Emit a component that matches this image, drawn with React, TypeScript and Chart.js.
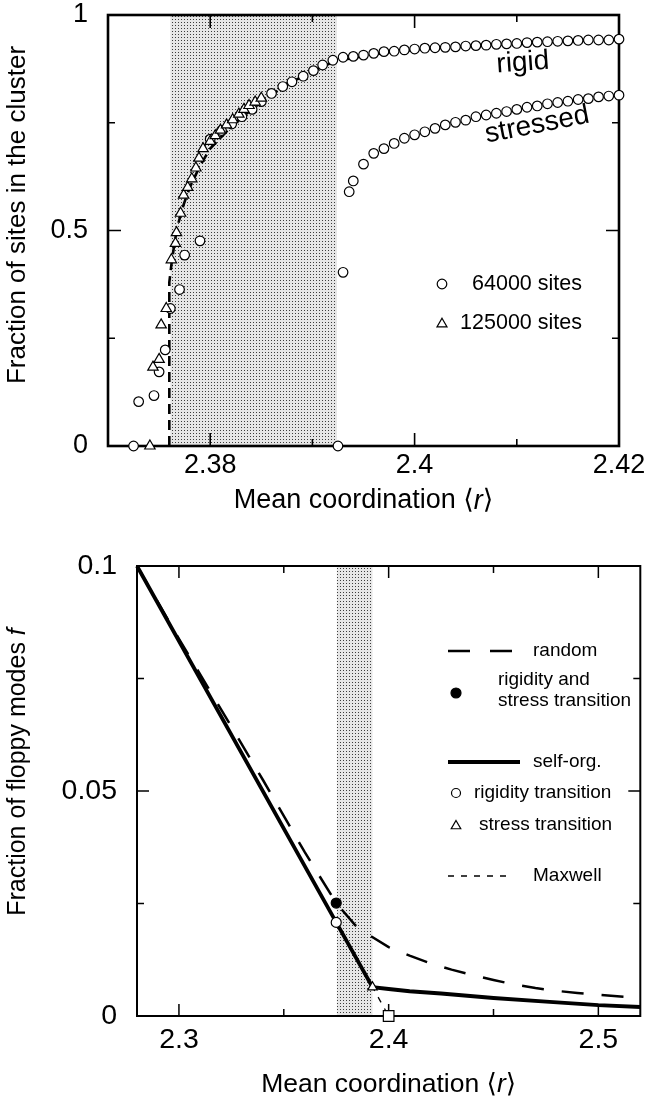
import React, { useEffect, useRef } from 'react';
import { Chart, registerables } from 'chart.js';

Chart.register(...registerables);

const FONT = '"Liberation Sans", Arial, Helvetica, "DejaVu Sans", sans-serif';

// ---------------- Top chart: fraction of sites in the cluster ----------------
const TOP_X_RANGE = [2.37, 2.42];
const TOP_Y_RANGE = [0, 1];
const TOP_X_TICKS = [2.38, 2.39, 2.4, 2.41, 2.42];
const TOP_X_LABELS = ['2.38', '', '2.4', '', '2.42'];
const TOP_Y_TICKS = [0, 0.25, 0.5, 0.75, 1];
const TOP_Y_LABELS = ['0', '', '0.5', '', '1'];
const TOP_SHADE = [2.3761, 2.3924];

// 64000 sites – rigid cluster
const RIGID64_R = [2.3725, 2.373, 2.3745, 2.375, 2.3756, 2.3761, 2.377, 2.3775, 2.379, 2.38, 2.3811, 2.3821, 2.3831, 2.3841, 2.385, 2.386, 2.3871, 2.388, 2.3891, 2.3901, 2.391, 2.392, 2.393, 2.394, 2.395, 2.396, 2.397, 2.398, 2.399, 2.4, 2.401, 2.402, 2.403, 2.404, 2.405, 2.406, 2.407, 2.408, 2.409, 2.41, 2.411, 2.412, 2.413, 2.414, 2.415, 2.416, 2.417, 2.418, 2.419, 2.42];
const RIGID64_F = [0, 0.103, 0.117, 0.172, 0.223, 0.319, 0.363, 0.443, 0.476, 0.712, 0.732, 0.747, 0.764, 0.781, 0.799, 0.818, 0.834, 0.845, 0.858, 0.871, 0.884, 0.895, 0.902, 0.904, 0.907, 0.911, 0.915, 0.916, 0.919, 0.921, 0.923, 0.924, 0.925, 0.926, 0.928, 0.929, 0.93, 0.932, 0.933, 0.934, 0.936, 0.937, 0.938, 0.939, 0.94, 0.941, 0.942, 0.942, 0.942, 0.944];
// 64000 sites – stressed cluster
const STRESS64_R = [2.3925, 2.393, 2.3936, 2.394, 2.395, 2.396, 2.397, 2.398, 2.399, 2.4, 2.401, 2.402, 2.403, 2.404, 2.405, 2.406, 2.407, 2.408, 2.409, 2.41, 2.411, 2.412, 2.413, 2.414, 2.415, 2.416, 2.417, 2.418, 2.419, 2.42];
const STRESS64_F = [0, 0.403, 0.59, 0.615, 0.654, 0.679, 0.69, 0.702, 0.714, 0.722, 0.729, 0.737, 0.745, 0.751, 0.756, 0.764, 0.768, 0.772, 0.776, 0.781, 0.786, 0.789, 0.794, 0.797, 0.8, 0.804, 0.806, 0.81, 0.812, 0.814];
// 125000 sites
const T125_R = [2.3741, 2.3744, 2.375, 2.3752, 2.3757, 2.3762, 2.3766, 2.3767, 2.3771, 2.3774, 2.3778, 2.3782, 2.3786, 2.3789, 2.3793, 2.38, 2.3805, 2.381, 2.3816, 2.3822, 2.3828, 2.3833, 2.3838, 2.3844, 2.385];
const T125_F = [0, 0.183, 0.201, 0.281, 0.319, 0.432, 0.47, 0.495, 0.54, 0.582, 0.6, 0.62, 0.645, 0.668, 0.69, 0.707, 0.72, 0.733, 0.745, 0.757, 0.77, 0.781, 0.79, 0.798, 0.807];
// dashed fit of the rigid cluster
const FIT_R = [2.376, 2.376, 2.3762, 2.3765, 2.3768, 2.3774, 2.378, 2.379, 2.38, 2.382, 2.384, 2.386, 2.388, 2.39, 2.392, 2.395, 2.398, 2.402, 2.406, 2.41, 2.415, 2.42];
const FIT_F = [0, 0.38, 0.42, 0.47, 0.51, 0.56, 0.6, 0.65, 0.69, 0.74, 0.78, 0.815, 0.845, 0.869, 0.891, 0.905, 0.915, 0.923, 0.929, 0.934, 0.939, 0.944];
// curve labels [r, value, rotation in degrees]
const TOP_CURVE_LABELS = ['rigid', 'stressed'];
const TOP_CURVE_LABEL_AT = [[2.4106, 0.889, -4], [2.412, 0.745, -11]];
const TOP_LEGEND = ['64000 sites', '125000 sites'];

// ---------------- Bottom chart: fraction of floppy modes ----------------
const BOT_X_RANGE = [2.28, 2.52];
const BOT_Y_RANGE = [0, 0.1];
const BOT_X_TICKS = [2.3, 2.35, 2.4, 2.45, 2.5];
const BOT_X_LABELS = ['2.3', '', '2.4', '', '2.5'];
const BOT_Y_TICKS = [0, 0.025, 0.05, 0.075, 0.1];
const BOT_Y_LABELS = ['0', '', '0.05', '', '0.1'];
const BOT_SHADE = [2.3753, 2.3923];

const RANDOM_R = [2.28, 2.3, 2.32, 2.34, 2.36, 2.375, 2.384, 2.392, 2.4, 2.41, 2.42, 2.43, 2.44, 2.45, 2.46, 2.47, 2.48, 2.49, 2.5, 2.52];
const RANDOM_F = [0.1, 0.0838, 0.0682, 0.0525, 0.0364, 0.0251, 0.0202, 0.0176, 0.0153, 0.0134, 0.0117, 0.0103, 0.0091, 0.008, 0.007, 0.0062, 0.0056, 0.0051, 0.0047, 0.004];
const SELF_R = [2.28, 2.375, 2.3923, 2.4, 2.41, 2.425, 2.45, 2.475, 2.5, 2.52];
const SELF_F = [0.1, 0.0208, 0.0064, 0.006, 0.0055, 0.005, 0.004, 0.0032, 0.0024, 0.002];
const MAXWELL_R = [2.28, 2.4];
const MAXWELL_F = [0.1, 0];
const RANDOM_TRANSITION = [2.375, 0.0251];
const RIGIDITY_TRANSITION = [2.375, 0.0208];
const STRESS_TRANSITION = [2.3923, 0.0064];
const MAXWELL_POINT = [2.4, 0];
const BOT_LEGEND = ['random', 'rigidity and', 'stress transition', 'self-org.', 'rigidity transition', 'stress transition', 'Maxwell'];

// ---------------- helpers ----------------
type Part = { t: string; i?: boolean };
const zip = (xs: number[], ys: number[]) => xs.map((x, k) => ({ x, y: ys[k] }));

function fontOf(size: number, italic = false) {
  return `${italic ? 'italic ' : ''}${size}px ${FONT}`;
}

function drawRich(ctx: CanvasRenderingContext2D, parts: Part[], x: number, y: number, size: number, rot = 0) {
  ctx.save();
  ctx.translate(x, y);
  ctx.rotate(rot);
  let total = 0;
  const widths = parts.map((p) => {
    ctx.font = fontOf(size, p.i);
    const w = ctx.measureText(p.t).width;
    total += w;
    return w;
  });
  let cx = -total / 2;
  ctx.fillStyle = '#000';
  ctx.textBaseline = 'middle';
  ctx.textAlign = 'left';
  parts.forEach((p, k) => {
    ctx.font = fontOf(size, p.i);
    ctx.fillText(p.t, cx, 0);
    cx += widths[k];
  });
  ctx.restore();
}

function circle(ctx: CanvasRenderingContext2D, x: number, y: number, r: number, fill: string) {
  ctx.beginPath();
  ctx.arc(x, y, r, 0, Math.PI * 2);
  ctx.fillStyle = fill;
  ctx.fill();
  ctx.stroke();
}

function triangle(ctx: CanvasRenderingContext2D, x: number, y: number, r: number) {
  ctx.beginPath();
  for (let k = 0; k < 3; k++) {
    const a = (k * 2 * Math.PI) / 3;
    const px = x + Math.sin(a) * r;
    const py = y - Math.cos(a) * r;
    if (k === 0) ctx.moveTo(px, py);
    else ctx.lineTo(px, py);
  }
  ctx.closePath();
  ctx.fillStyle = '#fff';
  ctx.fill();
  ctx.stroke();
}

function stipple(ctx: CanvasRenderingContext2D) {
  const c = document.createElement('canvas');
  c.width = 3;
  c.height = 3;
  const g = c.getContext('2d')!;
  g.fillStyle = '#e6e6e6';
  g.fillRect(0, 0, 3, 3);
  g.fillStyle = '#3c3c3c';
  g.fillRect(1, 1, 1, 1);
  return ctx.createPattern(c, 'repeat')!;
}

type Spec = {
  xTicks: number[];
  xLabels: string[];
  yTicks: number[];
  yLabels: string[];
  shade: number[];
  frameWidth: number;
  tickWidth: number;
  major: number;
  minor: number;
  xTitleSize: number;
  yTitleSize: number;
  xTitle: Part[];
  yTitle: Part[];
  xTitleY: number;
  yTitlePos: [number, number];
  extra: (chart: Chart) => void;
};

function makeDecor(spec: Spec) {
  return {
    id: 'decor',
    beforeDatasetsDraw(chart: Chart) {
      const { ctx, chartArea: a } = chart;
      const x = chart.scales.x;
      const y = chart.scales.y;
      ctx.save();
      // shaded window
      const x0 = x.getPixelForValue(spec.shade[0]);
      const x1 = x.getPixelForValue(spec.shade[1]);
      ctx.fillStyle = stipple(ctx);
      ctx.fillRect(x0, a.top, x1 - x0, a.bottom - a.top);
      // frame
      ctx.strokeStyle = '#000';
      ctx.lineWidth = spec.frameWidth;
      ctx.strokeRect(a.left, a.top, a.right - a.left, a.bottom - a.top);
      // inward ticks on all four sides
      ctx.lineWidth = spec.tickWidth;
      ctx.beginPath();
      spec.xTicks.forEach((v, k) => {
        const p = x.getPixelForValue(v);
        const len = spec.xLabels[k] ? spec.major : spec.minor;
        ctx.moveTo(p, a.bottom);
        ctx.lineTo(p, a.bottom - len);
        ctx.moveTo(p, a.top);
        ctx.lineTo(p, a.top + len);
      });
      spec.yTicks.forEach((v, k) => {
        const p = y.getPixelForValue(v);
        const len = spec.yLabels[k] ? spec.major : spec.minor;
        ctx.moveTo(a.left, p);
        ctx.lineTo(a.left + len, p);
        ctx.moveTo(a.right, p);
        ctx.lineTo(a.right - len, p);
      });
      ctx.stroke();
      ctx.restore();
    },
    afterDraw(chart: Chart) {
      const { ctx, chartArea: a } = chart;
      drawRich(ctx, spec.xTitle, (a.left + a.right) / 2, spec.xTitleY, spec.xTitleSize);
      drawRich(ctx, spec.yTitle, spec.yTitlePos[0], spec.yTitlePos[1], spec.yTitleSize, -Math.PI / 2);
      ctx.save();
      spec.extra(chart);
      ctx.restore();
    },
  };
}

// axis whose labels are offset by `gap` pixels, with a fixed box size
function axis(range: number[], ticks: number[], labels: string[], size: number, gap: number, fit: (s: any) => void) {
  return {
    type: 'linear',
    min: range[0],
    max: range[1],
    afterBuildTicks: (s: any) => {
      s.ticks = ticks.map((v) => ({ value: v }));
    },
    afterFit: (s: any) => {
      fit(s);
      s.paddingTop = 0;
      s.paddingBottom = 0;
      s.paddingLeft = 0;
      s.paddingRight = 0;
    },
    grid: { display: false, drawTicks: true, tickLength: gap },
    border: { display: false },
    ticks: {
      autoSkip: false,
      maxRotation: 0,
      padding: 0,
      color: '#000',
      font: { family: FONT, size },
      callback: (_v: any, k: number) => labels[k] ?? '',
    },
  };
}

const marker = (label: string, data: any[], style: string, r: number, fill = '#fff') => ({
  type: 'scatter',
  label,
  data,
  showLine: false,
  pointStyle: style,
  pointRadius: r,
  pointBackgroundColor: fill,
  pointBorderColor: '#000',
  pointBorderWidth: 1.2,
  clip: false,
});

const curve = (label: string, data: any[], width: number, dash: number[]) => ({
  type: 'line',
  label,
  data,
  showLine: true,
  borderColor: '#000',
  borderWidth: width,
  borderDash: dash,
  borderCapStyle: 'butt',
  pointRadius: 0,
  fill: false,
  tension: 0,
  clip: false,
});

function topConfig(): any {
  const spec: Spec = {
    xTicks: TOP_X_TICKS,
    xLabels: TOP_X_LABELS,
    yTicks: TOP_Y_TICKS,
    yLabels: TOP_Y_LABELS,
    shade: TOP_SHADE,
    frameWidth: 2.6,
    tickWidth: 1.6,
    major: 13,
    minor: 7,
    xTitleSize: 27,
    yTitleSize: 26,
    xTitle: [{ t: 'Mean coordination \u27E8' }, { t: 'r', i: true }, { t: '\u27E9' }],
    yTitle: [{ t: 'Fraction of sites in the cluster' }],
    xTitleY: 501,
    yTitlePos: [18, 215],
    extra: (chart) => {
      const ctx = chart.ctx;
      const x = chart.scales.x;
      const y = chart.scales.y;
      TOP_CURVE_LABELS.forEach((txt, k) => {
        const [r, f, deg] = TOP_CURVE_LABEL_AT[k];
        ctx.save();
        ctx.translate(x.getPixelForValue(r), y.getPixelForValue(f));
        ctx.rotate((deg * Math.PI) / 180);
        ctx.font = fontOf(28);
        ctx.fillStyle = '#000';
        ctx.textAlign = 'center';
        ctx.textBaseline = 'middle';
        ctx.fillText(txt, 0, 0);
        ctx.restore();
      });
      ctx.strokeStyle = '#000';
      ctx.lineWidth = 1.2;
      circle(ctx, 442, 284, 4.8, '#fff');
      triangle(ctx, 442, 324, 5.8);
      ctx.font = fontOf(21.5);
      ctx.fillStyle = '#000';
      ctx.textAlign = 'right';
      ctx.textBaseline = 'middle';
      ctx.fillText(TOP_LEGEND[0], 582, 284);
      ctx.fillText(TOP_LEGEND[1], 582, 323);
    },
  };
  return {
    type: 'scatter',
    data: {
      datasets: [
        marker('125000 sites', zip(T125_R, T125_F), 'triangle', 6),
        marker('64000 sites', zip(RIGID64_R, RIGID64_F), 'circle', 4.8),
        marker('64000 sites stressed', zip(STRESS64_R, STRESS64_F), 'circle', 4.8),
        curve('fit', zip(FIT_R, FIT_F), 2.6, [10, 6]),
      ],
    },
    options: {
      animation: false,
      responsive: false,
      events: [],
      layout: { padding: { left: 0, right: 30, top: 15, bottom: 0 } },
      plugins: { legend: { display: false }, tooltip: { enabled: false } },
      scales: {
        x: axis(TOP_X_RANGE, TOP_X_TICKS, TOP_X_LABELS, 27, 3, (s: any) => { s.height = 94; }),
        y: axis(TOP_Y_RANGE, TOP_Y_TICKS, TOP_Y_LABELS, 27, 20, (s: any) => { s.width = 108; }),
      },
    },
    plugins: [makeDecor(spec)],
  };
}

function bottomConfig(): any {
  const spec: Spec = {
    xTicks: BOT_X_TICKS,
    xLabels: BOT_X_LABELS,
    yTicks: BOT_Y_TICKS,
    yLabels: BOT_Y_LABELS,
    shade: BOT_SHADE,
    frameWidth: 2,
    tickWidth: 1.5,
    major: 12,
    minor: 7,
    xTitleSize: 26.5,
    yTitleSize: 25,
    xTitle: [{ t: 'Mean coordination \u27E8' }, { t: 'r', i: true }, { t: '\u27E9' }],
    yTitle: [{ t: 'Fraction of floppy modes ' }, { t: 'f', i: true }],
    xTitleY: 545,
    yTitlePos: [18, 232],
    extra: (chart) => {
      const ctx = chart.ctx;
      ctx.strokeStyle = '#000';
      ctx.fillStyle = '#000';
      // sample lines
      ctx.lineCap = 'butt';
      ctx.lineWidth = 2.5;
      ctx.setLineDash([22, 20]);
      ctx.beginPath();
      ctx.moveTo(448, 111);
      ctx.lineTo(513, 111);
      ctx.stroke();
      ctx.lineWidth = 4;
      ctx.setLineDash([]);
      ctx.beginPath();
      ctx.moveTo(448, 222);
      ctx.lineTo(520, 222);
      ctx.stroke();
      ctx.lineWidth = 1.3;
      ctx.setLineDash([6, 7]);
      ctx.beginPath();
      ctx.moveTo(448, 336);
      ctx.lineTo(513, 336);
      ctx.stroke();
      ctx.setLineDash([]);
      // sample markers
      ctx.lineWidth = 1.2;
      circle(ctx, 456, 153, 5, '#000');
      circle(ctx, 456, 253, 4.5, '#fff');
      triangle(ctx, 456, 286, 5.5);
      // texts
      ctx.font = fontOf(19);
      ctx.fillStyle = '#000';
      ctx.textAlign = 'left';
      ctx.textBaseline = 'middle';
      ctx.fillText(BOT_LEGEND[0], 533, 111);
      ctx.fillText(BOT_LEGEND[1], 498, 140);
      ctx.fillText(BOT_LEGEND[2], 498, 161);
      ctx.fillText(BOT_LEGEND[3], 533, 222);
      ctx.fillText(BOT_LEGEND[4], 474, 253);
      ctx.fillText(BOT_LEGEND[5], 479, 285);
      ctx.fillText(BOT_LEGEND[6], 533, 336);
    },
  };
  const pt = (p: number[]) => [{ x: p[0], y: p[1] }];
  return {
    type: 'scatter',
    data: {
      datasets: [
        marker('rigidity and stress transition', pt(RANDOM_TRANSITION), 'circle', 5, '#000'),
        marker('rigidity transition', pt(RIGIDITY_TRANSITION), 'circle', 5),
        marker('stress transition', pt(STRESS_TRANSITION), 'triangle', 5.5),
        marker('Maxwell point', pt(MAXWELL_POINT), 'rect', 7.5),
        curve('self-org.', zip(SELF_R, SELF_F), 3.8, []),
        curve('random', zip(RANDOM_R, RANDOM_F), 2.5, [22, 18]),
        curve('Maxwell', zip(MAXWELL_R, MAXWELL_F), 1.3, [6, 7]),
      ],
    },
    options: {
      animation: false,
      responsive: false,
      events: [],
      layout: { padding: { left: 0, right: 3, top: 26, bottom: 0 } },
      plugins: { legend: { display: false }, tooltip: { enabled: false } },
      scales: {
        x: axis(BOT_X_RANGE, BOT_X_TICKS, BOT_X_LABELS, 28.5, 7, (s: any) => { s.height = 83; }),
        y: axis(BOT_Y_RANGE, BOT_Y_TICKS, BOT_Y_LABELS, 28.5, 20, (s: any) => { s.width = 137; }),
      },
    },
    plugins: [makeDecor(spec)],
  };
}

function ChartCanvas({ top, height, make }: { top: number; height: number; make: () => any }) {
  const ref = useRef<HTMLCanvasElement>(null);
  useEffect(() => {
    if (!ref.current) return;
    const chart = new Chart(ref.current, make());
    return () => chart.destroy();
  }, [make]);
  return (
    <canvas
      ref={ref}
      width={649}
      height={height}
      style={{ position: 'absolute', left: 0, top, width: 649, height, display: 'block' }}
    />
  );
}

export default function App() {
  return (
    <div style={{ position: 'absolute', left: 0, top: 0, width: 649, height: 1099, background: '#fff', overflow: 'hidden' }}>
      <ChartCanvas top={0} height={540} make={topConfig} />
      <ChartCanvas top={540} height={559} make={bottomConfig} />
    </div>
  );
}
